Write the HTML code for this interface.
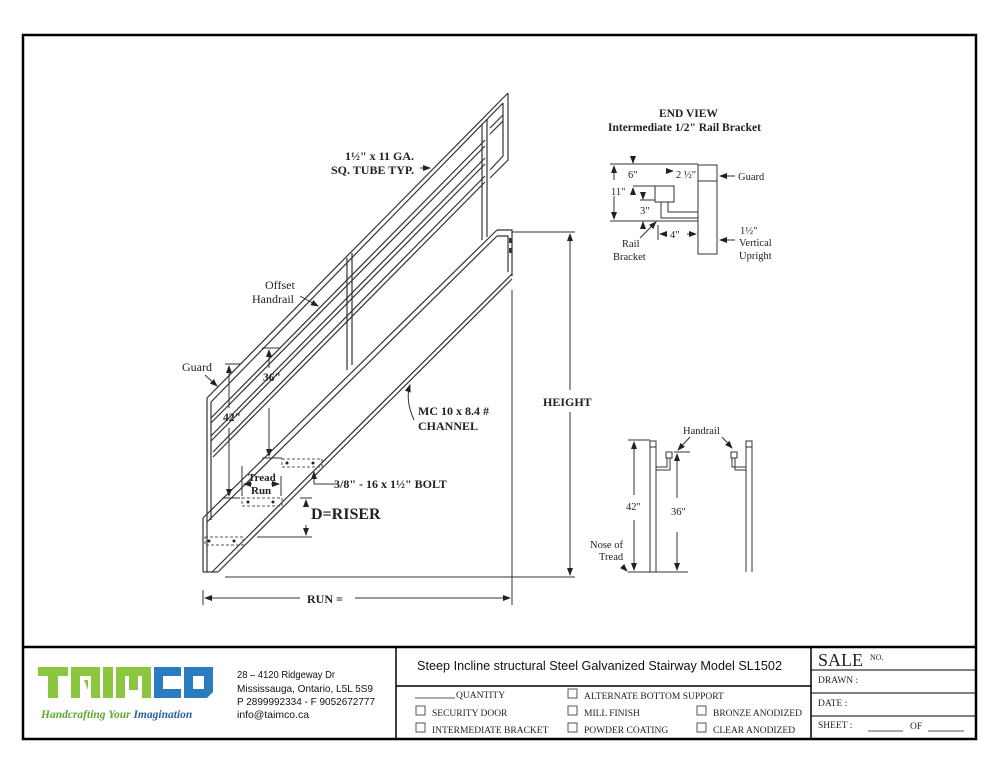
<!DOCTYPE html>
<html><head><meta charset="utf-8"><style>
html,body{margin:0;padding:0;background:#fff;}
svg{display:block;}
</style></head><body>
<svg width="1000" height="773" viewBox="0 0 1000 773" xmlns="http://www.w3.org/2000/svg">
<defs>
<marker id="ar" markerWidth="8" markerHeight="8" refX="7" refY="4" orient="auto" markerUnits="userSpaceOnUse"><path d="M0,1 L8,4 L0,7 z" fill="#222"/></marker>
</defs>
<rect width="1000" height="773" fill="#fff"/>
<rect x="23" y="35" width="953" height="704" fill="none" stroke="#000" stroke-width="2.5"/>
<line x1="23" y1="647" x2="976" y2="647" stroke="#000" stroke-width="2.5"/>

<g stroke="#333" stroke-width="1.2" fill="none">
<line x1="207" y1="398" x2="508" y2="93"/>
<line x1="211" y1="402" x2="503" y2="103"/>
<line x1="211" y1="418" x2="485" y2="140"/>
<line x1="211" y1="423" x2="485" y2="146"/>
<line x1="211" y1="436" x2="485" y2="158"/>
<line x1="211" y1="441" x2="485" y2="164"/>
<line x1="213" y1="452" x2="485" y2="176"/>
<line x1="213" y1="457" x2="485" y2="182"/>
<polyline points="508,93 508,160 490,178"/>
<polyline points="503,103 503,156 490,170"/>
<line x1="490" y1="128" x2="503" y2="115"/>
<line x1="490" y1="134" x2="503" y2="121"/>
<line x1="207" y1="398" x2="207" y2="572"/>
<line x1="211" y1="402" x2="211" y2="520"/>
<line x1="347" y1="258" x2="347" y2="370"/>
<line x1="352" y1="253" x2="352" y2="365"/>
<line x1="482" y1="124" x2="482" y2="240"/>
<line x1="487" y1="119" x2="487" y2="237"/>
<line x1="203" y1="518" x2="497" y2="230"/>
<line x1="207" y1="522" x2="497" y2="236"/>
<polyline points="497,230 512,230 512,276"/>
<polyline points="497,236 508,236 508,272"/>
<line x1="203" y1="518" x2="203" y2="572"/>
<line x1="203" y1="572" x2="218" y2="572"/>
<line x1="212" y1="572" x2="512" y2="274"/>
<line x1="218" y1="572" x2="512" y2="279"/>
</g>
<rect x="509" y="238" width="3" height="5" fill="#333"/>
<rect x="509" y="248" width="3" height="5" fill="#333"/>

<g stroke="#555" stroke-width="1" stroke-dasharray="3,2" fill="none">
<rect x="205" y="537" width="38" height="8"/>
<rect x="242" y="498" width="40" height="8"/>
<rect x="282" y="459" width="40" height="8"/>
</g>
<g fill="#222"><circle cx="209" cy="541" r="1.5"/><circle cx="234" cy="541" r="1.5"/><circle cx="248" cy="502" r="1.5"/><circle cx="273" cy="502" r="1.5"/><circle cx="287" cy="463" r="1.5"/><circle cx="313" cy="463" r="1.5"/></g>

<g stroke="#333" stroke-width="1" fill="none">
<line x1="512" y1="232" x2="575" y2="232"/>
<line x1="225" y1="577" x2="575" y2="577"/>
<line x1="570" y1="390" x2="570" y2="234" marker-end="url(#ar)"/>
<line x1="570" y1="412" x2="570" y2="575" marker-end="url(#ar)"/>
<line x1="512" y1="290" x2="512" y2="605"/>
<line x1="203" y1="590" x2="203" y2="605"/>
<line x1="300" y1="598" x2="205" y2="598" marker-end="url(#ar)"/>
<line x1="355" y1="598" x2="510" y2="598" marker-end="url(#ar)"/>
<line x1="225" y1="364" x2="240" y2="364"/>
<line x1="229" y1="408" x2="229" y2="366" marker-end="url(#ar)"/>
<line x1="229" y1="428" x2="229" y2="496" marker-end="url(#ar)"/>
<line x1="222" y1="498" x2="240" y2="498"/>
<line x1="262" y1="348" x2="280" y2="348"/>
<line x1="269" y1="368" x2="269" y2="350" marker-end="url(#ar)"/>
<line x1="269" y1="408" x2="269" y2="456" marker-end="url(#ar)"/>
<line x1="262" y1="458" x2="282" y2="458"/>
<line x1="242" y1="466" x2="242" y2="496"/>
<line x1="281" y1="476" x2="281" y2="496"/>
<line x1="252" y1="484" x2="244" y2="484" marker-end="url(#ar)"/>
<line x1="271" y1="484" x2="279" y2="484" marker-end="url(#ar)"/>
<line x1="300" y1="498" x2="312" y2="498"/>
<line x1="257" y1="537" x2="312" y2="537"/>
<line x1="306" y1="505" x2="306" y2="500" marker-end="url(#ar)"/>
<line x1="306" y1="525" x2="306" y2="535" marker-end="url(#ar)"/>
<line x1="338" y1="484" x2="314" y2="484"/>
<line x1="314" y1="484" x2="314" y2="472" marker-end="url(#ar)"/>
<path d="M414,420 Q405,400 410,385" marker-end="url(#ar)"/>
<line x1="205" y1="375" x2="217" y2="386" marker-end="url(#ar)"/>
<line x1="300" y1="296" x2="318" y2="306" marker-end="url(#ar)"/>
<line x1="420" y1="168" x2="430" y2="168" marker-end="url(#ar)"/>
</g>

<g font-family="Liberation Serif, serif" fill="#222">
<text x="345" y="160" font-size="12" font-weight="bold">1½" x 11 GA.</text>
<text x="331" y="174" font-size="12" font-weight="bold">SQ. TUBE TYP.</text>
<text x="265" y="289" font-size="12">Offset</text>
<text x="252" y="303" font-size="12">Handrail</text>
<text x="182" y="371" font-size="12">Guard</text>
<text x="263" y="381" font-size="11.5" font-weight="bold">36"</text>
<text x="223" y="421" font-size="11.5" font-weight="bold">42"</text>
<text x="418" y="415" font-size="12" font-weight="bold">MC 10 x 8.4 #</text>
<text x="418" y="430" font-size="12" font-weight="bold">CHANNEL</text>
<text x="248" y="481" font-size="11" font-weight="bold">Tread</text>
<text x="251" y="494" font-size="11" font-weight="bold">Run</text>
<text x="334" y="488" font-size="12" font-weight="bold">3/8" - 16 x 1½" BOLT</text>
<text x="311" y="519" font-size="16" font-weight="bold">D=RISER</text>
<text x="543" y="406" font-size="12" font-weight="bold">HEIGHT</text>
<text x="307" y="603" font-size="12" font-weight="bold">RUN =</text>
<text x="659" y="117" font-size="11.5" font-weight="bold">END VIEW</text>
<text x="608" y="131" font-size="11.5" font-weight="bold">Intermediate 1/2" Rail Bracket</text>
</g>

<g stroke="#333" stroke-width="1" fill="none">
<rect x="698" y="165" width="19" height="89"/>
<line x1="698" y1="181" x2="717" y2="181"/>
<rect x="655" y="186" width="19" height="16"/>
<polyline points="661,202 661,218 698,218"/>
<polyline points="668,202 668,212 698,212"/>
<line x1="610" y1="164" x2="698" y2="164"/>
<line x1="610" y1="221" x2="698" y2="221"/>
<line x1="633" y1="186" x2="655" y2="186"/>
<line x1="640" y1="200" x2="655" y2="200"/>
<line x1="614" y1="180" x2="614" y2="166" marker-end="url(#ar)"/>
<line x1="614" y1="196" x2="614" y2="219" marker-end="url(#ar)"/>
<line x1="633" y1="157" x2="633" y2="163" marker-end="url(#ar)"/>
<line x1="633" y1="194" x2="633" y2="188" marker-end="url(#ar)"/>
<line x1="643" y1="194" x2="643" y2="199" marker-end="url(#ar)"/>
<line x1="643" y1="228" x2="643" y2="222" marker-end="url(#ar)"/>
<line x1="666" y1="171" x2="673" y2="171" marker-end="url(#ar)"/>
<line x1="658" y1="225" x2="658" y2="240"/>
<line x1="665" y1="234" x2="660" y2="234" marker-end="url(#ar)"/>
<line x1="687" y1="234" x2="696" y2="234" marker-end="url(#ar)"/>
<line x1="640" y1="238" x2="656" y2="222" marker-end="url(#ar)"/>
<line x1="735" y1="176" x2="720" y2="176" marker-end="url(#ar)"/>
<line x1="735" y1="240" x2="720" y2="240" marker-end="url(#ar)"/>
</g>
<g font-family="Liberation Serif, serif" fill="#222" font-size="10.5">
<text x="628" y="178">6"</text>
<text x="676" y="178">2 ½"</text>
<text x="611" y="195">11"</text>
<text x="640" y="214">3"</text>
<text x="670" y="238">4"</text>
<text x="738" y="180">Guard</text>
<text x="622" y="247">Rail</text>
<text x="613" y="260">Bracket</text>
<text x="740" y="234">1½"</text>
<text x="739" y="246">Vertical</text>
<text x="739" y="259">Upright</text>
</g>

<g stroke="#333" stroke-width="1" fill="none">
<rect x="650" y="441" width="6" height="6"/>
<line x1="650" y1="447" x2="650" y2="572"/>
<line x1="656" y1="447" x2="656" y2="572"/>
<rect x="666" y="452" width="6" height="6"/>
<polyline points="667,458 667,467 656,467"/>
<polyline points="670,458 670,470 656,470"/>
<rect x="746" y="441" width="6" height="6"/>
<line x1="746" y1="447" x2="746" y2="572"/>
<line x1="752" y1="447" x2="752" y2="572"/>
<rect x="731" y="452" width="6" height="6"/>
<polyline points="732,458 732,467 746,467"/>
<polyline points="735,458 735,470 746,470"/>
<line x1="628" y1="440" x2="650" y2="440"/>
<line x1="674" y1="452" x2="690" y2="452"/>
<line x1="628" y1="572" x2="688" y2="572"/>
<line x1="634" y1="495" x2="634" y2="442" marker-end="url(#ar)"/>
<line x1="634" y1="520" x2="634" y2="570" marker-end="url(#ar)"/>
<line x1="677" y1="498" x2="677" y2="454" marker-end="url(#ar)"/>
<line x1="677" y1="532" x2="677" y2="570" marker-end="url(#ar)"/>
<line x1="690" y1="437" x2="678" y2="450" marker-end="url(#ar)"/>
<line x1="722" y1="437" x2="732" y2="448" marker-end="url(#ar)"/>
<line x1="622" y1="566" x2="627" y2="571" marker-end="url(#ar)"/>
</g>
<g font-family="Liberation Serif, serif" fill="#222" font-size="10.5">
<text x="683" y="434">Handrail</text>
<text x="626" y="510">42"</text>
<text x="671" y="515">36"</text>
<text x="590" y="548">Nose of</text>
<text x="599" y="560">Tread</text>
</g>

<g stroke="#000" stroke-width="1.5">
<line x1="396" y1="647" x2="396" y2="739"/>
<line x1="811" y1="647" x2="811" y2="739"/>
<line x1="396" y1="686" x2="811" y2="686"/>
<line x1="811" y1="670" x2="976" y2="670" stroke-width="1"/>
<line x1="811" y1="693" x2="976" y2="693" stroke-width="1"/>
<line x1="811" y1="716" x2="976" y2="716" stroke-width="1"/>
</g>
<g fill="#8cc63f">
<rect x="38" y="667" width="30" height="9"/><rect x="48" y="676" width="10" height="22"/>
<path d="M71,667 H100 V698 H91 V676 H80 V698 H71 Z"/>
<path d="M84,680 L88,680 L88,690 Z"/>
<rect x="103" y="667" width="10" height="31"/>
<path d="M116,667 H151 V698 H142 V676 H138 V690 H129 V676 H125 V698 H116 Z"/>
</g>
<g fill="#2b7bc1">
<path d="M154,667 H181 V676 H163 V689 H181 V698 H154 Z"/>
<path d="M184,667 H213 V692 L207,698 H184 Z M193,676 V689 H204 V676 Z" fill-rule="evenodd"/>
</g>
<text x="41" y="718" font-family="Liberation Serif, serif" font-style="italic" font-weight="bold" font-size="11.5" fill="#5fa832">Handcrafting Your <tspan fill="#2b5fa0">Imagination</tspan></text>
<g font-family="Liberation Sans, sans-serif" font-size="10.5" fill="#111">
<text x="237" y="678" textLength="98" lengthAdjust="spacingAndGlyphs">28 – 4120 Ridgeway Dr</text>
<text x="237" y="692" textLength="136" lengthAdjust="spacingAndGlyphs">Mississauga, Ontario, L5L 5S9</text>
<text x="237" y="705" textLength="138" lengthAdjust="spacingAndGlyphs">P 2899992334 - F 9052672777</text>
<text x="237" y="718" textLength="72" lengthAdjust="spacingAndGlyphs">info@taimco.ca</text>
<text x="417" y="670" font-size="12.5" textLength="365" lengthAdjust="spacingAndGlyphs">Steep Incline structural Steel Galvanized Stairway  Model SL1502</text>
</g>
<g font-family="Liberation Serif, serif" font-size="9.5" fill="#222">
<line x1="415" y1="698" x2="455" y2="698" stroke="#222" stroke-width="0.8"/>
<text x="456" y="698">QUANTITY</text>
<text x="432" y="716">SECURITY DOOR</text>
<text x="432" y="733">INTERMEDIATE BRACKET</text>
<text x="584" y="699">ALTERNATE BOTTOM SUPPORT</text>
<text x="584" y="716">MILL FINISH</text>
<text x="584" y="733">POWDER COATING</text>
<text x="713" y="716">BRONZE ANODIZED</text>
<text x="713" y="733">CLEAR ANODIZED</text>
<text x="818" y="683">DRAWN :</text>
<text x="818" y="706">DATE :</text>
<text x="818" y="728">SHEET :</text>
<text x="910" y="729">OF</text>
<line x1="868" y1="731" x2="903" y2="731" stroke="#222" stroke-width="0.8"/>
<line x1="928" y1="731" x2="964" y2="731" stroke="#222" stroke-width="0.8"/>
<text x="818" y="666" font-size="18">SALE</text>
<text x="870" y="660" font-size="8">NO.</text>
</g>
<g fill="none" stroke="#444" stroke-width="0.9">
<rect x="416" y="706" width="9" height="9"/>
<rect x="416" y="723" width="9" height="9"/>
<rect x="568" y="689" width="9" height="9"/>
<rect x="568" y="706" width="9" height="9"/>
<rect x="568" y="723" width="9" height="9"/>
<rect x="697" y="706" width="9" height="9"/>
<rect x="697" y="723" width="9" height="9"/>
</g>
</svg>
</body></html>
